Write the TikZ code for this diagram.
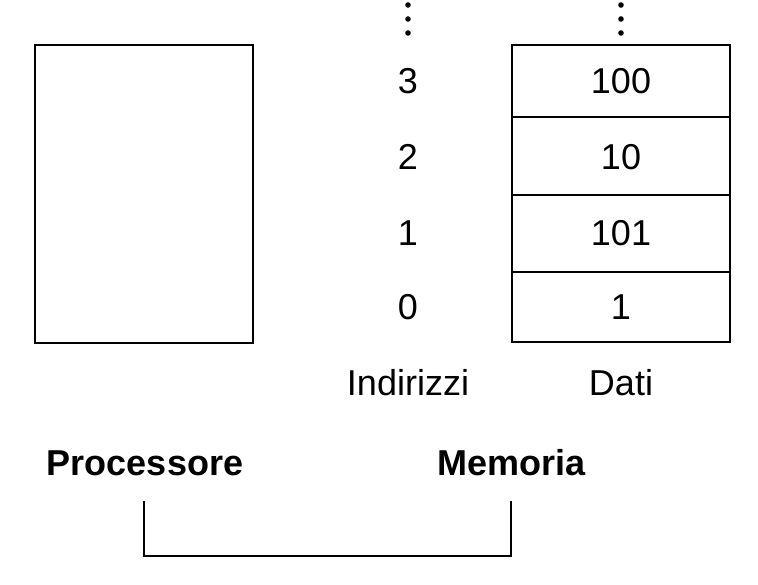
\documentclass[tikz,border=0pt]{standalone}
\usepackage{fontspec}
\setmainfont{Liberation Sans}
\begin{document}
\begin{tikzpicture}[x=1pt,y=-1pt,
  lbl/.style={font=\fontsize{36}{40}\selectfont, anchor=base, inner sep=0pt},
  blbl/.style={font=\fontsize{36}{40}\selectfont\bfseries, anchor=base, inner sep=0pt},
  thick line/.style={line width=2pt, line join=miter},
  cell/.style={draw, line width=2pt, rectangle, inner sep=0pt},
  vdot/.style={circle, fill=black, inner sep=0pt, minimum size=5.6pt}]
\useasboundingbox (0,0) rectangle (758,584);
% processor box
\node[cell, minimum width=218pt, minimum height=298pt] (proc) at (144,194) {};
% memory cells
\node[cell, minimum width=218pt, minimum height=72pt] (m3) at (621,81) {};
\node[cell, minimum width=218pt, minimum height=78pt] (m2) at (621,156) {};
\node[cell, minimum width=218pt, minimum height=77pt] (m1) at (621,233.5) {};
\node[cell, minimum width=218pt, minimum height=70pt] (m0) at (621,307) {};
% dots
\foreach \y [count=\i] in {5,19,33} {
  \node[vdot] (la\i) at (408,\y) {};
  \node[vdot] (da\i) at (621,\y) {};
}
% addresses
\node[lbl] (a3) at (408,93) {3};
\node[lbl] (a2) at (408,169) {2};
\node[lbl] (a1) at (408,245) {1};
\node[lbl] (a0) at (408,319) {0};
% data
\node[lbl] (d3) at (621,93) {100};
\node[lbl] (d2) at (621,169) {10};
\node[lbl] (d1) at (621,245) {101};
\node[lbl] (d0) at (621,319) {1};
% column labels
\node[lbl] (ind) at (408,395) {Indirizzi};
\node[lbl] (dat) at (621,395) {Dati};
% bold labels
\node[blbl] (procl) at (145,475) {Processore};
\node[blbl] (meml) at (512,475) {Memoria};
% bracket
\coordinate (b1) at (144,501);
\coordinate (c1) at (144,556);
\coordinate (c2) at (511,556);
\coordinate (b2) at (511,501);
\draw[thick line] (b1) -- (c1) -- (c2) -- (b2);
\end{tikzpicture}
\end{document}
